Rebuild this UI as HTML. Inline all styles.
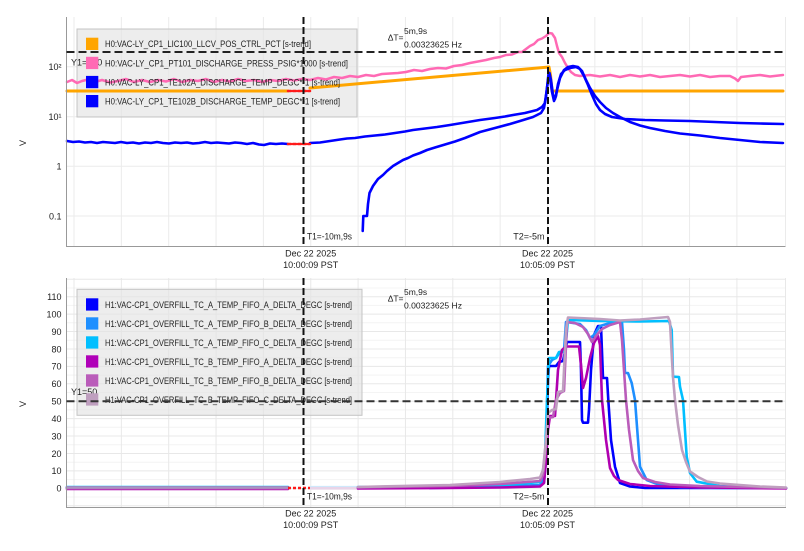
<!DOCTYPE html>
<html><head><meta charset="utf-8"><style>
html,body{margin:0;padding:0;background:#fff;}
svg{display:block;}
text{font-family:"Liberation Sans",sans-serif;fill:#222;}
</style></head><body>
<svg width="804" height="551" viewBox="0 0 804 551" xmlns="http://www.w3.org/2000/svg">
<rect width="804" height="551" fill="#fff"/>

<!-- ================= TOP PLOT ================= -->
<g stroke="#ebebeb" stroke-width="1" fill="none">
<path d="M74 17V246M121.35 17V246M168.7 17V246M216.05 17V246M263.4 17V246M310.75 17V246M358.1 17V246M405.45 17V246M452.8 17V246M500.15 17V246M547.5 17V246M594.85 17V246M642.2 17V246M689.55 17V246M736.9 17V246M785.5 17V246"/>
<path d="M66.5 66.7H785.5M66.5 116.7H785.5M66.5 166.3H785.5M66.5 216H785.5"/>
</g>
<rect x="77" y="29" width="280" height="88" fill="#e4e4e4" fill-opacity="0.65" stroke="#c4c4c4" stroke-width="1"/>

<g fill="none" stroke-linejoin="round" stroke-linecap="round">
<polyline stroke="#ffa500" stroke-width="3" points="67,91 288,91"/>
<polyline stroke="#ffa500" stroke-width="3" points="310,88 549,67 550.5,75 552,91 783,91"/>
<polyline stroke="#ff69b4" stroke-width="2.5" points="67,82 72,80 77,83 82,81 88,79.5 95,82 102,80 110,82.5 118,81 126,79 134,82 142,80 150,82 158,80 166,81.5 174,79 182,82 190,80 198,81 206,79 214,82 222,80 230,81.5 238,79 246,81 254,80 262,82 270,80 278,81 286,79 294,80.5 302,79 310,80 318,78 326,79.5 334,77 342,78 350,76 358,77 366,75 374,76 382,74 390,73.5 398,73 406,72 414,70 422,71 430,69 438,68 446,68.5 454,66 462,65 470,63 478,61.5 486,60 494,58 500,57 506,55 512,54.5 518,52 522,52 526,49 530,46 534,44 538,40 542,38.5 546,36 549,33 552,33.5 555,38 557,46 559,53 562,57 565,63 568,68 571,72 575,75 580,76 590,75 600,76.5 610,75 620,77 630,75 640,76.5 650,75 660,77 670,76 680,75 690,76.5 700,75 710,77 720,76 730,76 735,78.5 738,81 741,77 750,76 760,75 770,76.5 783,75"/>
<polyline stroke="#0000ff" stroke-width="2.6" points="67,141 73,142 79,141.5 85,142.5 91,142 97,143 103,142 109,142.5 115,143 121,142 127,143 133,142.5 139,143.5 145,142.5 151,143 157,142 163,143 169,143.5 175,142.5 181,143 187,142.5 193,143.5 199,143 205,142 211,143 217,142.5 223,143 229,143.5 235,142.5 241,143 247,144 253,143 259,144.5 264,145 270,143.5 276,144 282,143.5 288,144"/>
<polyline stroke="#0000ff" stroke-width="2.6" points="310,143 320,142.5 330,141 340,139.5 347,138.5 355,138 365,136.5 375,135.5 385,134.5 395,133 405,131.5 413,130 425,128.5 437,127 450,125 465,122.5 480,120 495,118 505,116.5 513,115 525,113 537,110 542,107 545,103 547,88 548.5,74 550,78 552,92 554,101 556,96 558,84 561,74 565,70 570,68 576,67 580,69 584,76 588,85 592,95 596,104 600,110 605,114 612,117 625,119 645,120 665,120.5 690,121 715,122 740,123 760,123.5 783,124"/>
<polyline stroke="#0000ff" stroke-width="2.6" points="362.7,231 363.3,216 367,216 368,204 369.5,193 373,186 378,179 383,175 387,171 393,166 398,163 403,160 408,158 413,155.5 420,153 427,150 435,147.5 445,144.5 455,141.5 465,138 480,132 495,128 510,124 520,121 533,117 541,113 544,108 546,96 548,80 549.5,73 551,80 553,95 555,99 557,90 560,78 564,70 568,67 573,66 578,67 582,71 586,80 590,88 595,96 600,102 606,108 613,113 620,117 630,122 640,125.5 650,128 665,131 680,133.5 700,135.5 720,138 740,140 760,142 783,143"/>
<path d="M288 91H310M288 144H310" stroke="#ff1a1a" stroke-width="2.5" stroke-dasharray="3,2"/>
</g>

<path d="M66.5 17V246.5H785.5" stroke="#999" stroke-width="1" fill="none"/>

<text x="71" y="65.5" font-size="9">Y1=200</text>

<rect x="86" y="37.7" width="12.3" height="12.3" fill="#ffa500"/>
<rect x="86" y="56.8" width="12.3" height="12.3" fill="#ff69b4"/>
<rect x="86" y="75.9" width="12.3" height="12.3" fill="#0000ff"/>
<rect x="86" y="95" width="12.3" height="12.3" fill="#0000ff"/>
<text x="105" y="47.2" font-size="9.5" textLength="206" lengthAdjust="spacingAndGlyphs">H0:VAC-LY_CP1_LIC100_LLCV_POS_CTRL_PCT [s-trend]</text>
<text x="105" y="66.3" font-size="9.5" textLength="243" lengthAdjust="spacingAndGlyphs">H0:VAC-LY_CP1_PT101_DISCHARGE_PRESS_PSIG*1000 [s-trend]</text>
<text x="105" y="85.4" font-size="9.5" textLength="235" lengthAdjust="spacingAndGlyphs">H0:VAC-LY_CP1_TE102A_DISCHARGE_TEMP_DEGC*-1 [s-trend]</text>
<text x="105" y="104.5" font-size="9.5" textLength="235" lengthAdjust="spacingAndGlyphs">H0:VAC-LY_CP1_TE102B_DISCHARGE_TEMP_DEGC*-1 [s-trend]</text>

<path d="M66.5 52H785.5" stroke="#222" stroke-width="2" stroke-dasharray="8,4"/>
<path d="M303.5 17V246M548 17V246" stroke="#111" stroke-width="2" stroke-dasharray="7,3"/>

<text x="387.7" y="40.5" font-size="8.5">ΔT=</text>
<text x="404" y="34" font-size="8.5">5m,9s</text>
<text x="404" y="47.5" font-size="8.5" textLength="58" lengthAdjust="spacingAndGlyphs">0.00323625 Hz</text>
<text x="307" y="239.5" font-size="9" textLength="45" lengthAdjust="spacingAndGlyphs">T1=-10m,9s</text>
<text x="544.5" y="239.5" font-size="9" text-anchor="end">T2=-5m</text>

<g font-size="9" text-anchor="end">
<text x="61.5" y="70">10²</text>
<text x="61.5" y="120">10¹</text>
<text x="61.5" y="169.5">1</text>
<text x="61.5" y="219.5">0.1</text>
</g>
<text x="0" y="0" font-size="9" transform="translate(26,143) rotate(-90)" text-anchor="middle">V</text>

<g font-size="9" text-anchor="middle">
<text x="310.7" y="256.5">Dec 22 2025</text>
<text x="310.7" y="268">10:00:09 PST</text>
<text x="547.5" y="256.5">Dec 22 2025</text>
<text x="547.5" y="268">10:05:09 PST</text>
</g>

<!-- ================= BOTTOM PLOT ================= -->
<g stroke="#f4f4f4" stroke-width="1" fill="none">
<path d="M66.5 497H785.5M66.5 479.6H785.5M66.5 462.2H785.5M66.5 444.7H785.5M66.5 427.3H785.5M66.5 409.9H785.5M66.5 392.5H785.5M66.5 375.1H785.5M66.5 357.7H785.5M66.5 340.2H785.5M66.5 322.8H785.5M66.5 305.4H785.5M66.5 288H785.5"/>
</g>
<g stroke="#e8e8e8" stroke-width="1" fill="none">
<path d="M74 278V507M121.35 278V507M168.7 278V507M216.05 278V507M263.4 278V507M310.75 278V507M358.1 278V507M405.45 278V507M452.8 278V507M500.15 278V507M547.5 278V507M594.85 278V507M642.2 278V507M689.55 278V507M736.9 278V507M785.5 278V507"/>
<path d="M66.5 505.7H785.5M66.5 488.3H785.5M66.5 470.9H785.5M66.5 453.5H785.5M66.5 436H785.5M66.5 418.6H785.5M66.5 401.2H785.5M66.5 383.8H785.5M66.5 366.4H785.5M66.5 349H785.5M66.5 331.5H785.5M66.5 314.1H785.5M66.5 296.7H785.5M66.5 279.3H785.5"/>
</g>
<rect x="77" y="289.3" width="285" height="126" fill="#e4e4e4" fill-opacity="0.65" stroke="#c4c4c4" stroke-width="1"/>

<g fill="none" stroke-linejoin="round" stroke-linecap="round" stroke-width="2.6">
<path d="M67 487H288" stroke="#00bfff"/>
<path d="M67 487.3H288" stroke="#1e8fff"/>
<path d="M67 487.6H288" stroke="#0000ff"/>
<path d="M67 488.9H288" stroke="#b000b0"/>
<path d="M67 488.3H288" stroke="#ba5cba"/>
<path d="M67 487.4H288" stroke="#a896c0"/>
<path d="M311 487.2H358" stroke="#cfe8fb"/>
<path d="M311 488.3H358" stroke="#e8d4e8"/>
<path d="M288 488H310" stroke="#ff1a1a" stroke-width="2.5" stroke-dasharray="3,2" stroke-linecap="butt"/>

<polyline stroke="#0000ff" points="430,488 500,487 540,486 544,482 546,460 548,380 549,366 556,366 559,362 563,361 567,342 580,342 581,370 582,420 583,422.7 588,422.7 589,410 591,370 594,335 598,326 601,326 603,378 607,378 608.3,400 611,440 615,466.7 620,483 630,486.5 645,488 786,488"/>
<polyline stroke="#1e8fff" points="420,487.5 500,486.5 540,485 544,478 546,450 548,366 552,360 556,358 560,352 564,351 566,322 580,324 586,330 590,338 594,335 600,326 610,323 622,322 624,350 625,373 628,373 631.7,383 635,400 638,440 640,466.7 646.7,480 660,485 680,487 720,488 786,488"/>
<polyline stroke="#00bfff" points="358,487 450,487 500,485.5 540,482 543,470 545,456 547,400 549,358 556,358 559,352 565,351.7 568,320 600,321 640,321.5 669,321 671.7,330 673,376.7 679,377 680,386.7 683,400 686.7,456.7 690,473 696.7,481.7 720,486 750,487.5 786,488"/>
<polyline stroke="#b000b0" points="358,488.5 450,488 500,487.5 540,486.5 544,483 546,460 548,430 550,416 555,416 558,370 562,350 566,346.5 579,346.5 581,365 583,388 586,378 590,358 594,343 598,336 600,345 602,400 606,440 610,468 614,476 618,480 630,484 650,486 700,487.5 786,488.5"/>
<polyline stroke="#ba5cba" points="358,487.5 450,486 500,484 540,481 543,475 546,445 548,418 553,417 556,400 560,393 564,391 567,322 575,323 583,327 588,334 592,342 596,336 602,329 610,325 620,322 622,340 624,370 626,400 629,430 633,460 638,471 643,478 655,482 670,484.5 700,486 740,487 786,488"/>
<polyline stroke="#bf9fbf" points="358,487 400,486 450,485 500,482 530,479 540,477.5 543,470 546,440 548,413 552,410 556,409 558,392 563,391 566,330 568,317.5 600,319 620,320.5 640,319.5 668,317 670,322 672,360 673,377 675,400 678,425 682,450 686,462 690,471.5 698,477 707,481.5 720,483.5 740,485 760,486.5 786,487.5"/>
</g>

<path d="M66.5 278V507.5H786" stroke="#999" stroke-width="1" fill="none"/>

<text x="71" y="395" font-size="9">Y1=50</text>

<rect x="86" y="298.3" width="12.3" height="12.3" fill="#0000ff"/>
<rect x="86" y="317.3" width="12.3" height="12.3" fill="#1e8fff"/>
<rect x="86" y="336.3" width="12.3" height="12.3" fill="#00bfff"/>
<rect x="86" y="355.3" width="12.3" height="12.3" fill="#b000b8"/>
<rect x="86" y="374.3" width="12.3" height="12.3" fill="#ba5cba"/>
<rect x="86" y="393.3" width="12.3" height="12.3" fill="#bf9fbf"/>
<g font-size="9.5">
<text x="105" y="307.8" textLength="247" lengthAdjust="spacingAndGlyphs">H1:VAC-CP1_OVERFILL_TC_A_TEMP_FIFO_A_DELTA_DEGC [s-trend]</text>
<text x="105" y="326.8" textLength="247" lengthAdjust="spacingAndGlyphs">H1:VAC-CP1_OVERFILL_TC_A_TEMP_FIFO_B_DELTA_DEGC [s-trend]</text>
<text x="105" y="345.8" textLength="247" lengthAdjust="spacingAndGlyphs">H1:VAC-CP1_OVERFILL_TC_A_TEMP_FIFO_C_DELTA_DEGC [s-trend]</text>
<text x="105" y="364.8" textLength="247" lengthAdjust="spacingAndGlyphs">H1:VAC-CP1_OVERFILL_TC_B_TEMP_FIFO_A_DELTA_DEGC [s-trend]</text>
<text x="105" y="383.8" textLength="247" lengthAdjust="spacingAndGlyphs">H1:VAC-CP1_OVERFILL_TC_B_TEMP_FIFO_B_DELTA_DEGC [s-trend]</text>
<text x="105" y="402.8" textLength="247" lengthAdjust="spacingAndGlyphs">H1:VAC-CP1_OVERFILL_TC_B_TEMP_FIFO_C_DELTA_DEGC [s-trend]</text>
</g>

<path d="M66.5 401.3H785.5" stroke="#333" stroke-width="2" stroke-dasharray="8,4"/>
<path d="M303.5 278V507M548 278V507" stroke="#111" stroke-width="2" stroke-dasharray="7,3"/>

<text x="387.7" y="301.5" font-size="8.5">ΔT=</text>
<text x="404" y="295" font-size="8.5">5m,9s</text>
<text x="404" y="308.5" font-size="8.5" textLength="58" lengthAdjust="spacingAndGlyphs">0.00323625 Hz</text>
<text x="307" y="499.5" font-size="9" textLength="45" lengthAdjust="spacingAndGlyphs">T1=-10m,9s</text>
<text x="544.5" y="499.5" font-size="9" text-anchor="end">T2=-5m</text>

<g font-size="9" text-anchor="end">
<text x="61.5" y="300">110</text>
<text x="61.5" y="317.4">100</text>
<text x="61.5" y="334.8">90</text>
<text x="61.5" y="352.3">80</text>
<text x="61.5" y="369.7">70</text>
<text x="61.5" y="387.1">60</text>
<text x="61.5" y="404.5">50</text>
<text x="61.5" y="421.9">40</text>
<text x="61.5" y="439.3">30</text>
<text x="61.5" y="456.8">20</text>
<text x="61.5" y="474.2">10</text>
<text x="61.5" y="491.6">0</text>
</g>
<text x="0" y="0" font-size="9" transform="translate(26,404) rotate(-90)" text-anchor="middle">V</text>

<g font-size="9" text-anchor="middle">
<text x="310.7" y="516.5">Dec 22 2025</text>
<text x="310.7" y="528">10:00:09 PST</text>
<text x="547.5" y="516.5">Dec 22 2025</text>
<text x="547.5" y="528">10:05:09 PST</text>
</g>
</svg>
</body></html>
